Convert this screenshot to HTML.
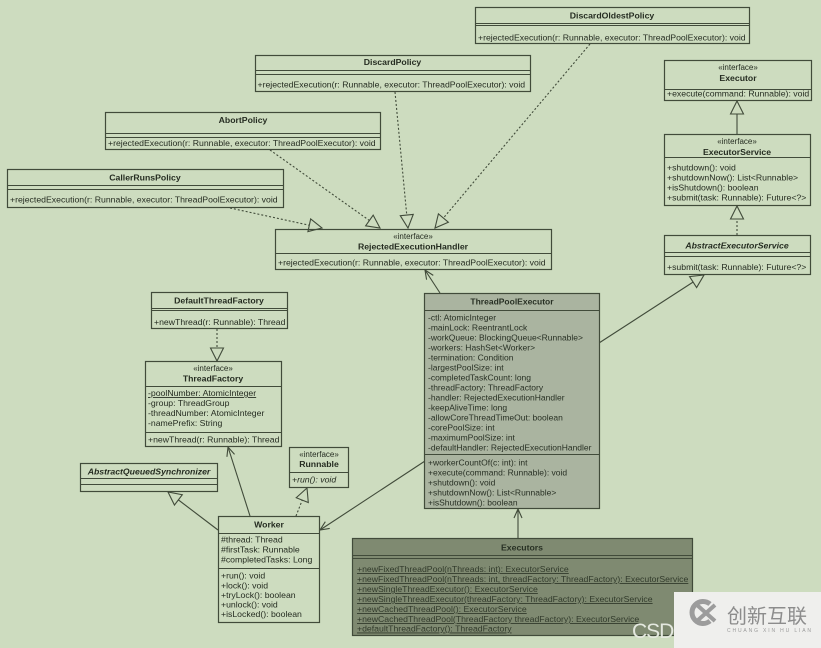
<!DOCTYPE html>
<html><head><meta charset="utf-8"><style>
html,body{margin:0;padding:0;background:#cddcbf;}
svg{display:block;}
text{font-family:"Liberation Sans",Arial,sans-serif;fill:#252c21;font-size:8.7px;}
.b{font-weight:bold;}
.i{font-style:italic;}
.st{font-size:8px;}
.tp{font-size:8.5px;fill:#283024;}
.ex{font-size:8.7px;fill:#313a2b;text-decoration:underline;}
.box{fill:none;stroke:#414b3a;stroke-width:1.2;}
.ln{stroke:#414b3a;stroke-width:1.1;fill:none;}
.d{stroke-dasharray:2,2;}
</style></head><body>
<svg width="821" height="648" xmlns="http://www.w3.org/2000/svg">
<defs>
<marker id="tri" markerUnits="userSpaceOnUse" markerWidth="20" markerHeight="20" refX="13" refY="6.5" orient="auto" overflow="visible">
<path d="M0,0 L13,6.5 L0,13 Z" fill="#cddcbf" stroke="#414b3a" stroke-width="1.1" stroke-dasharray="none"/>
</marker>
<marker id="arr" markerUnits="userSpaceOnUse" markerWidth="14" markerHeight="14" refX="9" refY="4" orient="auto" overflow="visible">
<path d="M0,0 L9,4 L0,8" fill="none" stroke="#414b3a" stroke-width="1.1" stroke-dasharray="none"/>
</marker>
</defs>
<rect width="821" height="648" fill="#cddcbf"/>

<!-- connectors -->
<path class="ln d" d="M590,44 L435,228" marker-end="url(#tri)"/>
<path class="ln d" d="M395,92 L408,228" marker-end="url(#tri)"/>
<path class="ln d" d="M270,150 L380,228" marker-end="url(#tri)"/>
<path class="ln d" d="M230,208 L322,228" marker-end="url(#tri)"/>
<path class="ln" d="M737,134 L737,101" marker-end="url(#tri)"/>
<path class="ln d" d="M737,235 L737,206" marker-end="url(#tri)"/>
<path class="ln" d="M599,343 L704,275" marker-end="url(#tri)"/>
<path class="ln" d="M440,293 L425,270" marker-end="url(#arr)"/>
<path class="ln d" d="M217,329 L217,361" marker-end="url(#tri)"/>
<path class="ln" d="M250,516 L228,447" marker-end="url(#arr)"/>
<path class="ln" d="M218,530 L168,492" marker-end="url(#tri)"/>
<path class="ln d" d="M296,516 L307,488" marker-end="url(#tri)"/>
<path class="ln" d="M425,461 L320,530" marker-end="url(#arr)"/>
<path class="ln" d="M518,538 L518,509" marker-end="url(#arr)"/>

<!-- DiscardOldestPolicy -->
<rect class="box" x="475.5" y="7.5" width="274" height="36"/>
<line class="ln" x1="475.5" y1="23.5" x2="749.5" y2="23.5"/>
<line class="ln" x1="475.5" y1="25.5" x2="749.5" y2="25.5"/>
<text class="b" x="612" y="18.5" text-anchor="middle">DiscardOldestPolicy</text>
<text x="478" y="40.5">+rejectedExecution(r: Runnable, executor: ThreadPoolExecutor): void</text>

<!-- DiscardPolicy -->
<rect class="box" x="255.5" y="55.5" width="275" height="36"/>
<line class="ln" x1="255.5" y1="70.5" x2="530.5" y2="70.5"/>
<line class="ln" x1="255.5" y1="74.5" x2="530.5" y2="74.5"/>
<text class="b" x="392.5" y="65" text-anchor="middle">DiscardPolicy</text>
<text x="257.5" y="87.5">+rejectedExecution(r: Runnable, executor: ThreadPoolExecutor): void</text>

<!-- AbortPolicy -->
<rect class="box" x="105.5" y="112.5" width="275" height="37"/>
<line class="ln" x1="105.5" y1="133.5" x2="380.5" y2="133.5"/>
<line class="ln" x1="105.5" y1="137.5" x2="380.5" y2="137.5"/>
<text class="b" x="243" y="123" text-anchor="middle">AbortPolicy</text>
<text x="108" y="146">+rejectedExecution(r: Runnable, executor: ThreadPoolExecutor): void</text>

<!-- CallerRunsPolicy -->
<rect class="box" x="7.5" y="169.5" width="276" height="38"/>
<line class="ln" x1="7.5" y1="185.5" x2="283.5" y2="185.5"/>
<line class="ln" x1="7.5" y1="189.5" x2="283.5" y2="189.5"/>
<text class="b" x="145" y="180.5" text-anchor="middle">CallerRunsPolicy</text>
<text x="10" y="202.5">+rejectedExecution(r: Runnable, executor: ThreadPoolExecutor): void</text>

<!-- RejectedExecutionHandler -->
<rect class="box" x="275.5" y="229.5" width="276" height="40"/>
<line class="ln" x1="275.5" y1="253.5" x2="551.5" y2="253.5"/>
<text class="st" x="413" y="239" text-anchor="middle">«interface»</text>
<text class="b" x="413" y="249.5" text-anchor="middle">RejectedExecutionHandler</text>
<text x="278" y="265.5">+rejectedExecution(r: Runnable, executor: ThreadPoolExecutor): void</text>

<!-- Executor -->
<rect class="box" x="664.5" y="60.5" width="147" height="40"/>
<line class="ln" x1="664.5" y1="89.5" x2="811.5" y2="89.5"/>
<text class="st" x="738" y="70" text-anchor="middle">«interface»</text>
<text class="b" x="738" y="81" text-anchor="middle">Executor</text>
<text x="667" y="96.5">+execute(command: Runnable): void</text>

<!-- ExecutorService -->
<rect class="box" x="664.5" y="134.5" width="146" height="71"/>
<line class="ln" x1="664.5" y1="157.5" x2="810.5" y2="157.5"/>
<text class="st" x="737" y="144" text-anchor="middle">«interface»</text>
<text class="b" x="737" y="155" text-anchor="middle">ExecutorService</text>
<text x="667" y="170.5">+shutdown(): void</text>
<text x="667" y="180.5">+shutdownNow(): List&lt;Runnable&gt;</text>
<text x="667" y="190.5">+isShutdown(): boolean</text>
<text x="667" y="200.5">+submit(task: Runnable): Future&lt;?&gt;</text>

<!-- AbstractExecutorService -->
<rect class="box" x="664.5" y="235.5" width="146" height="39"/>
<line class="ln" x1="664.5" y1="252.5" x2="810.5" y2="252.5"/>
<line class="ln" x1="664.5" y1="256.5" x2="810.5" y2="256.5"/>
<text class="b i" x="737" y="248.5" text-anchor="middle">AbstractExecutorService</text>
<text x="667" y="270">+submit(task: Runnable): Future&lt;?&gt;</text>

<!-- ThreadPoolExecutor -->
<rect class="box" x="424.5" y="293.5" width="175" height="215" style="fill:#aab4a0"/>
<line class="ln" x1="424.5" y1="310.5" x2="599.5" y2="310.5"/>
<text class="b tp" x="512" y="304.5" text-anchor="middle">ThreadPoolExecutor</text>
<text class="tp" x="428" y="320.5">-ctl: AtomicInteger</text>
<text class="tp" x="428" y="330.5">-mainLock: ReentrantLock</text>
<text class="tp" x="428" y="340.5">-workQueue: BlockingQueue&lt;Runnable&gt;</text>
<text class="tp" x="428" y="350.5">-workers: HashSet&lt;Worker&gt;</text>
<text class="tp" x="428" y="360.5">-termination: Condition</text>
<text class="tp" x="428" y="370.5">-largestPoolSize: int</text>
<text class="tp" x="428" y="380.5">-completedTaskCount: long</text>
<text class="tp" x="428" y="390.5">-threadFactory: ThreadFactory</text>
<text class="tp" x="428" y="400.5">-handler: RejectedExecutionHandler</text>
<text class="tp" x="428" y="410.5">-keepAliveTime: long</text>
<text class="tp" x="428" y="420.5">-allowCoreThreadTimeOut: boolean</text>
<text class="tp" x="428" y="430.5">-corePoolSize: int</text>
<text class="tp" x="428" y="440.5">-maximumPoolSize: int</text>
<text class="tp" x="428" y="450.5">-defaultHandler: RejectedExecutionHandler</text>
<line class="ln" x1="424.5" y1="454.5" x2="599.5" y2="454.5"/>
<text class="tp" x="428" y="465.5">+workerCountOf(c: int): int</text>
<text class="tp" x="428" y="475.5">+execute(command: Runnable): void</text>
<text class="tp" x="428" y="485.5">+shutdown(): void</text>
<text class="tp" x="428" y="495.5">+shutdownNow(): List&lt;Runnable&gt;</text>
<text class="tp" x="428" y="505.5">+isShutdown(): boolean</text>

<!-- DefaultThreadFactory -->
<rect class="box" x="151.5" y="292.5" width="136" height="36"/>
<line class="ln" x1="151.5" y1="308.5" x2="287.5" y2="308.5"/>
<line class="ln" x1="151.5" y1="310.5" x2="287.5" y2="310.5"/>
<text class="b" x="219" y="303.5" text-anchor="middle">DefaultThreadFactory</text>
<text x="154" y="325">+newThread(r: Runnable): Thread</text>

<!-- ThreadFactory -->
<rect class="box" x="145.5" y="361.5" width="136" height="85"/>
<line class="ln" x1="145.5" y1="386.5" x2="281.5" y2="386.5"/>
<text class="st" x="213" y="371" text-anchor="middle">«interface»</text>
<text class="b" x="213" y="381.5" text-anchor="middle">ThreadFactory</text>
<text x="148" y="396" style="text-decoration:underline">-poolNumber: AtomicInteger</text>
<text x="148" y="406">-group: ThreadGroup</text>
<text x="148" y="416">-threadNumber: AtomicInteger</text>
<text x="148" y="426">-namePrefix: String</text>
<line class="ln" x1="145.5" y1="432.5" x2="281.5" y2="432.5"/>
<text x="148" y="442.5">+newThread(r: Runnable): Thread</text>

<!-- Runnable -->
<rect class="box" x="289.5" y="447.5" width="59" height="40"/>
<line class="ln" x1="289.5" y1="472.5" x2="348.5" y2="472.5"/>
<text class="st" x="319" y="457" text-anchor="middle">«interface»</text>
<text class="b" x="319" y="467" text-anchor="middle">Runnable</text>
<text class="i" x="292" y="482.5">+run(): void</text>

<!-- AbstractQueuedSynchronizer -->
<rect class="box" x="80.5" y="463.5" width="137" height="28"/>
<line class="ln" x1="80.5" y1="478.5" x2="217.5" y2="478.5"/>
<line class="ln" x1="80.5" y1="484.5" x2="217.5" y2="484.5"/>
<text class="b i" x="149" y="474.5" text-anchor="middle">AbstractQueuedSynchronizer</text>

<!-- Worker -->
<rect class="box" x="218.5" y="516.5" width="101" height="106"/>
<line class="ln" x1="218.5" y1="533.5" x2="319.5" y2="533.5"/>
<text class="b" x="269" y="527.5" text-anchor="middle">Worker</text>
<text x="221" y="542.5">#thread: Thread</text>
<text x="221" y="552.5">#firstTask: Runnable</text>
<text x="221" y="562.5">#completedTasks: Long</text>
<line class="ln" x1="218.5" y1="568.5" x2="319.5" y2="568.5"/>
<text x="221" y="578.5">+run(): void</text>
<text x="221" y="588.5">+lock(): void</text>
<text x="221" y="598">+tryLock(): boolean</text>
<text x="221" y="607.5">+unlock(): void</text>
<text x="221" y="617">+isLocked(): boolean</text>

<!-- Executors -->
<rect class="box" x="352.5" y="538.5" width="340" height="97" style="fill:#7f8a71"/>
<line class="ln" x1="352.5" y1="555.5" x2="692.5" y2="555.5"/>
<line class="ln" x1="352.5" y1="558.5" x2="692.5" y2="558.5"/>
<text class="b" x="522" y="550.5" text-anchor="middle" style="fill:#283024">Executors</text>
<text class="ex" x="357" y="572">+newFixedThreadPool(nThreads: int): ExecutorService</text>
<text class="ex" x="357" y="582">+newFixedThreadPool(nThreads: int, threadFactory: ThreadFactory): ExecutorService</text>
<text class="ex" x="357" y="592">+newSingleThreadExecutor(): ExecutorService</text>
<text class="ex" x="357" y="602">+newSingleThreadExecutor(threadFactory: ThreadFactory): ExecutorService</text>
<text class="ex" x="357" y="612">+newCachedThreadPool(): ExecutorService</text>
<text class="ex" x="357" y="622">+newCachedThreadPool(ThreadFactory threadFactory): ExecutorService</text>
<text class="ex" x="357" y="631.5">+defaultThreadFactory(): ThreadFactory</text>

<!-- watermark -->
<text x="632" y="638" style="font-size:21px;fill:#e4e8df;letter-spacing:-1px">CSDN</text>
<rect x="674" y="592" width="147" height="56" fill="#efefed"/>
<path d="M710,604 A11,11 0 1 0 710,621" fill="none" stroke="#9c9c9c" stroke-width="5"/>
<path d="M697,605 L715,621 M715,605 L697,621" stroke="#9c9c9c" stroke-width="4"/>
<text x="727" y="623" style="font-family:'Liberation Sans','Noto Sans CJK SC',sans-serif;font-size:20px;fill:#8c8c8c">创新互联</text>
<text x="727" y="632" textLength="84" style="font-size:5px;fill:#9a9a9a">CHUANG XIN HU LIAN</text>
</svg>
</body></html>
